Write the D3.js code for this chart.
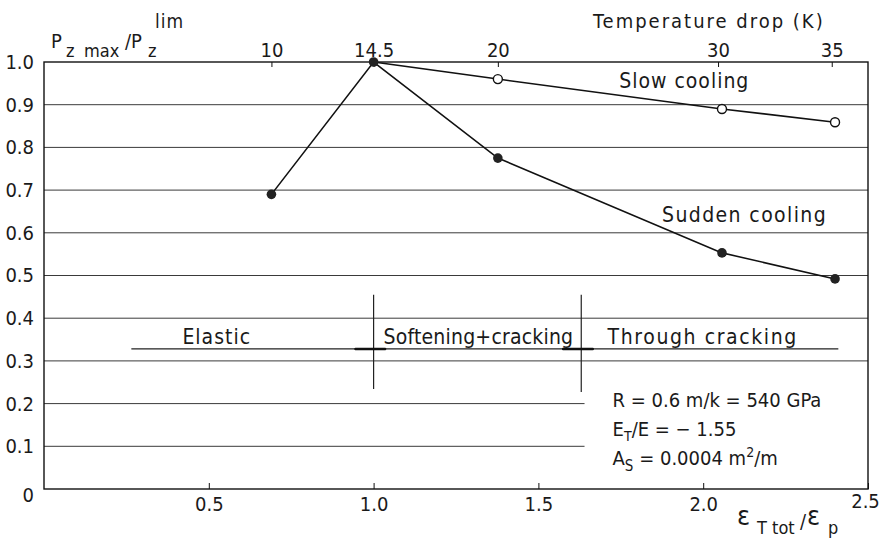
<!DOCTYPE html>
<html>
<head>
<meta charset="utf-8">
<script src="https://cdn.jsdelivr.net/npm/d3@7"></script>
<style>
  body { margin: 0; background: #fff; }
  svg text { font-family: "DejaVu Sans Condensed", "DejaVu Sans", sans-serif; fill: #1a1a1a; }
</style>
</head>
<body>
<div class="chart"></div>
<script>
// values
const yTicks = [0, 0.1, 0.2, 0.3, 0.4, 0.5, 0.6, 0.7, 0.8, 0.9, 1.0];
const xTicks = [0.5, 1.0, 1.5, 2.0, 2.5];
const tempLabels = ["10", "14.5", "20", "30", "35"];
const tempAt = [0.69, 1.0, 1.377, 2.045, 2.39];   // strain position of each temperature tick

const suddenX = [0.69, 1.0, 1.377, 2.057, 2.40];
const suddenY = [0.69, 1.0, 0.775, 0.553, 0.492];
const slowX = [1.0, 1.377, 2.057, 2.40];
const slowY = [1.0, 0.96, 0.89, 0.859];

const zones = ["Elastic", "Softening+cracking", "Through cracking"];
const zoneX = [0.42, 1.03, 1.71];
const zoneBounds = [1.0, 1.63];

const width = 880, height = 540;
const margin = {top: 62, right: 12, bottom: 51, left: 44};

const svg = d3.select(".chart")
  .append("svg")
    .attr("width", width)
    .attr("height", height);

const x = d3.scaleLinear().domain([0, 2.5]).range([margin.left, width - margin.right]);
const y = d3.scaleLinear().domain([0, 1]).range([height - margin.bottom, margin.top]);

// grid lines (lower two stop short of the parameter box)
svg.append("g")
  .selectAll("line")
  .data(yTicks.filter(d => d > 0 && d < 1))
  .join("line")
    .attr("x1", x(0))
    .attr("x2", d => d < 0.25 ? x(1.64) : x(2.5))
    .attr("y1", d => y(d))
    .attr("y2", d => y(d))
    .attr("stroke", "#3a3a3a")
    .attr("stroke-width", 1);

// frame
svg.append("rect")
  .attr("x", x(0)).attr("y", y(1))
  .attr("width", x(2.5) - x(0)).attr("height", y(0) - y(1))
  .attr("fill", "none").attr("stroke", "#111").attr("stroke-width", 1.4);

// bottom axis
const xAxis = svg.append("g")
  .attr("transform", `translate(0,${y(0)})`)
  .call(d3.axisBottom(x).tickValues(xTicks).tickSize(-6).tickSizeOuter(0).tickPadding(8)
    .tickFormat(d3.format(".1f")));
xAxis.select(".domain").remove();
xAxis.selectAll(".tick text").filter(d => d === 2.5).attr("dx", -3).attr("dy", "0.55em");

// left axis
const yAxis = svg.append("g")
  .attr("transform", `translate(${x(0)},0)`)
  .call(d3.axisLeft(y).tickValues(yTicks).tickSize(0).tickPadding(10)
    .tickFormat(d => d === 0 ? "0" : d.toFixed(1)));
yAxis.select(".domain").remove();
yAxis.selectAll(".tick text").filter(d => d === 0).attr("dy", "0.6em");

// top axis: temperature drop
const tAxis = svg.append("g")
  .attr("transform", `translate(0,${y(1)})`)
  .call(d3.axisTop(x).tickValues(tempAt).tickSize(-5).tickSizeOuter(0).tickPadding(5)
    .tickFormat((d, i) => tempLabels[i]));
tAxis.select(".domain").remove();

svg.selectAll(".tick line").attr("stroke", "#111");
svg.selectAll(".tick text").attr("font-size", 20).attr("fill", "#1a1a1a")
  .attr("font-family", "DejaVu Sans Condensed, DejaVu Sans, sans-serif");

// series lines
const line = d3.line().x(d => x(d[0])).y(d => y(d[1]));
const sudden = d3.zip(suddenX, suddenY);
const slow = d3.zip(slowX, slowY);

svg.append("path").datum(slow).attr("d", line)
  .attr("fill", "none").attr("stroke", "#111").attr("stroke-width", 1.6);
svg.append("path").datum(sudden).attr("d", line)
  .attr("fill", "none").attr("stroke", "#111").attr("stroke-width", 1.6);

svg.append("g").selectAll("circle").data(slow.slice(1)).join("circle")
  .attr("cx", d => x(d[0])).attr("cy", d => y(d[1])).attr("r", 4.5)
  .attr("fill", "#fff").attr("stroke", "#111").attr("stroke-width", 1.4);
svg.append("g").selectAll("circle").data(sudden).join("circle")
  .attr("cx", d => x(d[0])).attr("cy", d => y(d[1])).attr("r", 4.8)
  .attr("fill", "#222");

svg.append("text").attr("x", x(1.745)).attr("y", y(0.94))
  .attr("font-size", 21).attr("letter-spacing", 1).text("Slow cooling");
svg.append("text").attr("x", x(1.875)).attr("y", y(0.625))
  .attr("font-size", 21).attr("letter-spacing", 1.4).text("Sudden cooling");

// zone annotation
const zy = 0.328;
svg.append("line")
  .attr("x1", x(0.265)).attr("x2", x(2.41))
  .attr("y1", y(zy)).attr("y2", y(zy))
  .attr("stroke", "#222").attr("stroke-width", 1.2);
svg.append("g").selectAll("line").data(zoneBounds).join("line")
  .attr("x1", d => x(d)).attr("x2", d => x(d))
  .attr("y1", y(0.455)).attr("y2", d => y(d > 1.2 ? 0.227 : 0.234))
  .attr("stroke", "#222").attr("stroke-width", 1.2);
// small arrow marks at the boundaries
svg.append("g").selectAll("line").data(zoneBounds).join("line")
  .attr("x1", d => x(d - 0.055)).attr("x2", d => x(d + 0.035))
  .attr("y1", y(zy)).attr("y2", y(zy))
  .attr("stroke", "#111").attr("stroke-width", 2.4).attr("stroke-linecap", "round");
svg.append("g").selectAll("text").data(zones).join("text")
  .attr("x", (d, i) => x(zoneX[i])).attr("y", y(0.34))
  .attr("font-size", 21).attr("letter-spacing", (d, i) => [1, 0.2, 1.6][i]).text(d => d);

// parameter block
const px = x(1.725);
const p1 = svg.append("text").attr("x", px).attr("y", y(0.193)).attr("font-size", 20);
p1.text("R = 0.6 m/k = 540 GPa");
const p2 = svg.append("text").attr("x", px).attr("y", y(0.123)).attr("font-size", 20);
p2.append("tspan").text("E");
p2.append("tspan").attr("font-size", 14).attr("dy", 5).text("T");
p2.append("tspan").attr("dy", -5).text("/E = \u2212 1.55");
const p3 = svg.append("text").attr("x", px).attr("y", y(0.057)).attr("font-size", 20);
p3.append("tspan").text("A");
p3.append("tspan").attr("font-size", 15).attr("dy", 6).text("S");
p3.append("tspan").attr("dy", -6).text(" = 0.0004 m");
p3.append("tspan").attr("font-size", 14).attr("dy", -8).text("2");
p3.append("tspan").attr("dy", 8).text("/m");

// axis titles
const yl = svg.append("g");
yl.append("text").attr("x", 51).attr("y", 48).attr("font-size", 20).text("P");
yl.append("text").attr("x", 66).attr("y", 57).attr("font-size", 18).text("z");
yl.append("text").attr("x", 84).attr("y", 57).attr("font-size", 18).text("max");
yl.append("text").attr("x", 125).attr("y", 48).attr("font-size", 20).text("/P");
yl.append("text").attr("x", 148).attr("y", 57).attr("font-size", 18).text("z");
yl.append("text").attr("x", 155).attr("y", 28).attr("font-size", 19).attr("letter-spacing", 1).text("lim");

svg.append("text").attr("x", 593).attr("y", 28).attr("font-size", 20)
  .attr("letter-spacing", 2).text("Temperature drop (K)");

const xl = svg.append("g");
xl.append("text").attr("x", 737).attr("y", 525).attr("font-size", 27).text("\u03b5");
xl.append("text").attr("x", 757).attr("y", 534).attr("font-size", 18).text("T tot");
xl.append("text").attr("x", 800).attr("y", 528).attr("font-size", 20).text("/");
xl.append("text").attr("x", 807).attr("y", 525).attr("font-size", 27).text("\u03b5");
xl.append("text").attr("x", 828).attr("y", 534).attr("font-size", 18).text("p");
</script>
</body>
</html>
